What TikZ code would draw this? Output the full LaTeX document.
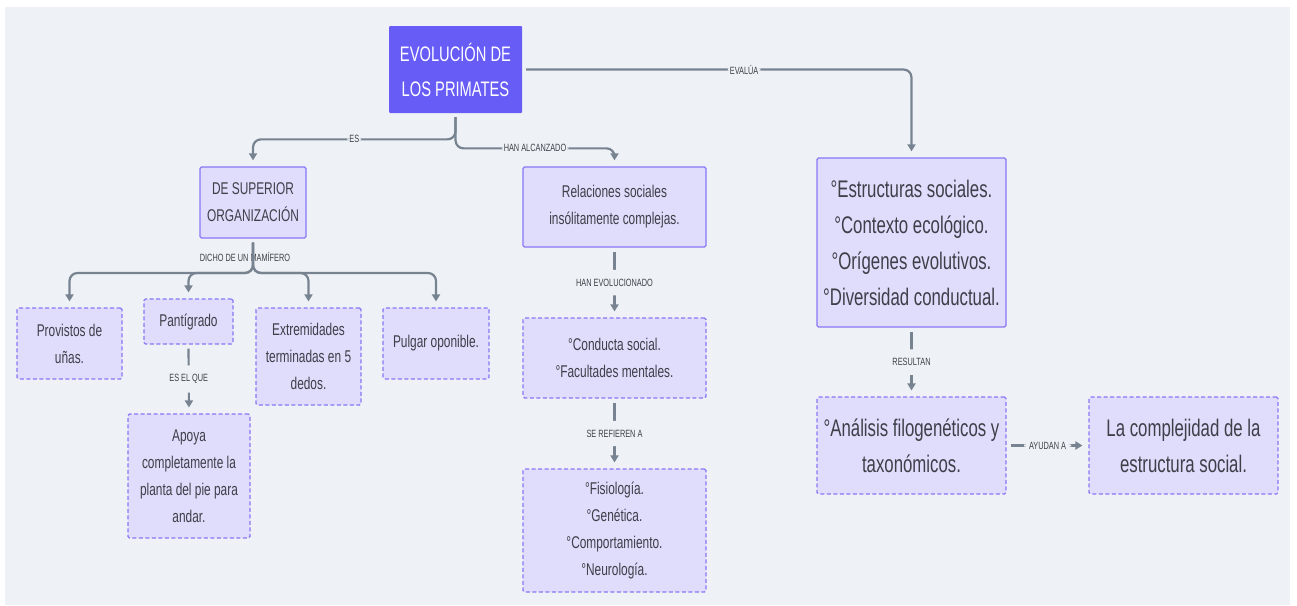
\documentclass[tikz,border=0pt]{standalone}
\usepackage{fontspec}
\setmainfont{Liberation Sans}[FakeStretch=0.7]
\usetikzlibrary{arrows.meta}
\definecolor{canvas}{RGB}{238,242,246}
\definecolor{mainfill}{RGB}{104,92,246}
\definecolor{boxfill}{RGB}{224,220,252}
\definecolor{boxline}{RGB}{136,120,246}
\definecolor{wire}{RGB}{120,131,145}
\definecolor{ink}{RGB}{60,64,72}
\begin{document}
\begin{tikzpicture}[x=1pt,y=-1pt,
  mainbox/.style={fill=mainfill,text=white,align=center,inner sep=0pt,rounded corners=1pt,font=\fontsize{21}{35}\selectfont},
  box/.style={draw=boxline,fill=boxfill,line width=1.3pt,rounded corners=1.5pt,text=ink,align=center,inner sep=0pt},
  dashbox/.style={box,line width=1.1pt,dash pattern=on 4pt off 2.5pt},
  small/.style={font=\fontsize{17}{27}\selectfont},
  big/.style={font=\fontsize{24}{36}\selectfont},
  conn/.style={draw=wire,line width=2.2pt,rounded corners=8pt,-{Triangle[width=8pt,length=7pt]},shorten >=6pt,shorten <=4pt},
  lbl/.style={fill=canvas,text=ink,font=\fontsize{10.5}{12}\selectfont,inner xsep=2pt,inner ysep=1pt},
  vlbl/.style={lbl,inner ysep=9pt}]

% Background
\useasboundingbox (0,0) rectangle (1297,605);
\fill[canvas] (5,7) rectangle (1290,605);

% Title
\node[mainbox,minimum width=133pt,minimum height=87pt] (main) at (455.5,69.5) {EVOLUCIÓN DE\\LOS PRIMATES};

% Left branch
\node[box,small,minimum width=106pt,minimum height=71pt] (sup) at (253,202.5) {DE SUPERIOR\\ORGANIZACIÓN};
\node[dashbox,small,minimum width=105pt,minimum height=71pt] (prov) at (69.5,343.5) {Provistos de\\uñas.};
\node[dashbox,small,minimum width=89pt,minimum height=45pt] (pant) at (188.5,321.5) {Pantígrado};
\node[dashbox,small,minimum width=105pt,minimum height=97pt] (ext) at (308.5,356.5) {Extremidades\\terminadas en 5\\dedos.};
\node[dashbox,small,minimum width=106pt,minimum height=71pt] (pulg) at (436,343.5) {Pulgar oponible.};
\node[dashbox,small,minimum width=122pt,minimum height=124pt] (apoya) at (189,476) {Apoya\\completamente la\\planta del pie para\\andar.};

% Middle branch
\node[box,small,minimum width=183pt,minimum height=80pt] (rel) at (614.5,207) {Relaciones sociales\\insólitamente complejas.};
\node[dashbox,small,minimum width=183pt,minimum height=80pt] (cond) at (614.5,358) {°Conducta social.\\°Facultades mentales.};
\node[dashbox,small,minimum width=183pt,minimum height=123pt] (fis) at (614.5,530.5) {°Fisiología.\\°Genética.\\°Comportamiento.\\°Neurología.};

% Right branch
\node[box,big,minimum width=189pt,minimum height=169pt] (est) at (911.5,242.5) {°Estructuras sociales.\\°Contexto ecológico.\\°Orígenes evolutivos.\\°Diversidad conductual.};
\node[dashbox,big,minimum width=189pt,minimum height=97pt] (ana) at (911.5,445.5) {°Análisis filogenéticos y\\taxonómicos.};
\node[dashbox,big,minimum width=189pt,minimum height=97pt] (comp) at (1183.5,445.5) {La complejidad de la\\estructura social.};

% Connectors from the title
\draw[conn] (main.south) |- ([yshift=27pt]sup.north) node[lbl,pos=0.75] {ES} -- (sup.north);
\draw[conn] (main.south) |- ([yshift=18pt]rel.north) node[lbl,pos=0.75] {HAN ALCANZADO} -- (rel.north);
\draw[conn] (main.east) -| (est.north) node[lbl,pos=0.285] {EVALÚA};

% Fork under the left box
\coordinate (fork) at (253,273);
\node[lbl,fill=none] (dicho) at (245,257) {DICHO DE UN MAMÍFERO};
\foreach \b in {prov,pant,ext,pulg}
  \draw[conn] (sup.south) -- (fork) -| (\b.north);

% Straight connectors
\draw[conn] (pant.south) -- (apoya.north) node[vlbl,midway] {ES EL QUE};
\draw[conn] (rel.south) -- (cond.north) node[vlbl,midway] {HAN EVOLUCIONADO};
\draw[conn] (cond.south) -- (fis.north) node[vlbl,midway] {SE REFIEREN A};
\draw[conn] (est.south) -- (ana.north) node[vlbl,midway] {RESULTAN};
\draw[conn] (ana.east) -- (comp.west) node[lbl,midway,inner xsep=5pt] {AYUDAN A};
\end{tikzpicture}
\end{document}
